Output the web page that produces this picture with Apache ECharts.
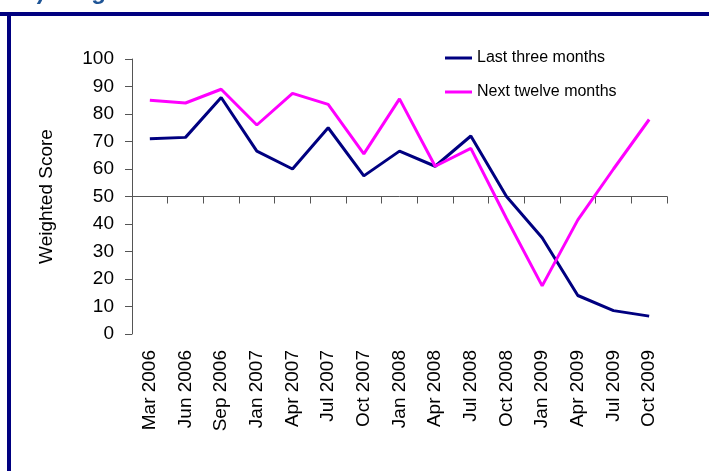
<!DOCTYPE html>
<html>
<head>
<meta charset="utf-8">
<script src="https://cdn.jsdelivr.net/npm/echarts@6/dist/echarts.min.js"></script>
<style>
  html, body { margin: 0; padding: 0; background: #fff; }
  #chart { width: 709px; height: 471px; }
</style>
</head>
<body>
<div id="chart"></div>
<script>
const months = [
  'Mar 2006', 'Jun 2006', 'Sep 2006', 'Jan 2007', 'Apr 2007', 'Jul 2007', 'Oct 2007', 'Jan 2008',
  'Apr 2008', 'Jul 2008', 'Oct 2008', 'Jan 2009', 'Apr 2009', 'Jul 2009', 'Oct 2009',
]
const lastThree = [71, 71.5, 86, 66.5, 60, 75, 57.5, 66.5, 61, 72, 50, 35, 14, 8.5, 6.5]
const nextTwelve = [85, 84, 89, 76, 87.5, 83.5, 65.5, 85.5, 61, 67.5, 42, 17.5, 41.5, 60, 78]

const FONT = 'Liberation Sans, Arial, sans-serif'
const AXIS_COLOR = '#555'

const chart = echarts.init(document.getElementById('chart'))
chart.setOption({
  animation: false,
  textStyle: { fontFamily: FONT },
  graphic: [
    { type: 'text', left: 22, top: -20, style: { text: 'b) Cargo', font: 'bold 24px ' + FONT, fill: '#1f5596' } },
    { type: 'rect', shape: { x: 0, y: 12, width: 709, height: 4 }, style: { fill: '#000080' } },
    { type: 'rect', shape: { x: 7, y: 12, width: 4, height: 459 }, style: { fill: '#000080' } },
  ],
  legend: {
    orient: 'vertical',
    left: 440,
    top: 44,
    icon: 'rect',
    itemWidth: 27,
    itemHeight: 3,
    itemGap: 16,
    textStyle: { fontSize: 16, color: '#000', fontFamily: FONT, lineHeight: 18 },
    data: ['Last three months', 'Next twelve months'],
  },
  grid: { left: 132, right: 42, top: 59, bottom: 137 },
  xAxis: [
    {
      type: 'category',
      data: months,
      position: 'bottom',
      axisLine: { show: false },
      axisTick: { show: false },
      axisLabel: { rotate: 90, margin: 16, fontSize: 19, color: '#000', fontFamily: FONT, interval: 0 },
    },
    {
      type: 'category',
      data: months,
      position: 'bottom',
      offset: -137.5,
      axisLine: { show: true, lineStyle: { color: AXIS_COLOR, width: 1 } },
      axisTick: { show: true, interval: 0, length: 7, lineStyle: { color: AXIS_COLOR } },
      axisLabel: { show: false, interval: 0 },
    },
  ],
  yAxis: {
    type: 'value',
    min: 0,
    max: 100,
    interval: 10,
    name: 'Weighted Score',
    nameLocation: 'middle',
    nameGap: 76,
    nameTextStyle: { fontSize: 19, color: '#000', fontFamily: FONT },
    axisLine: { show: true, lineStyle: { color: AXIS_COLOR, width: 1 } },
    axisTick: { show: true, length: 7, lineStyle: { color: AXIS_COLOR } },
    axisLabel: { fontSize: 19, color: '#000', margin: 18, fontFamily: FONT },
    splitLine: { show: false },
  },
  series: [
    {
      name: 'Last three months',
      type: 'line',
      data: lastThree,
      symbol: 'none',
      lineStyle: { color: '#000080', width: 3 },
      itemStyle: { color: '#000080' },
    },
    {
      name: 'Next twelve months',
      type: 'line',
      data: nextTwelve,
      symbol: 'none',
      lineStyle: { color: '#ff00ff', width: 3 },
      itemStyle: { color: '#ff00ff' },
    },
  ],
})
</script>
</body>
</html>
